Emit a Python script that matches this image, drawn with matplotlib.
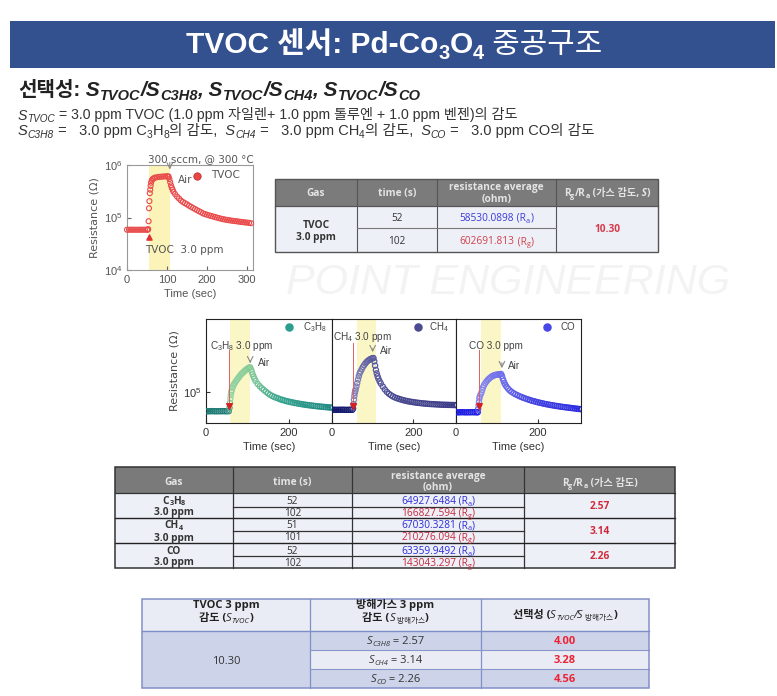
import numpy as np
import matplotlib
matplotlib.use('Agg')
import matplotlib.pyplot as plt
from matplotlib.patches import Rectangle
from matplotlib.lines import Line2D
from matplotlib.colors import LinearSegmentedColormap

# ---------------- data ----------------
tvoc_t = [0, 5, 10, 15, 20, 25, 30, 35, 40, 45, 50, 52, 53, 54, 55, 56, 57, 58, 59, 60,
          62, 64, 67, 70, 75, 80, 85, 90, 95, 100, 103, 104, 106, 108, 110, 112, 114, 116,
          120, 125, 130, 135, 140, 145, 150, 155, 160, 165, 170, 175, 180, 185, 190, 195,
          200, 205, 210, 215, 220, 225, 230, 235, 240, 245, 250, 255, 260, 265, 270, 275,
          280, 285, 290, 295, 300, 305, 310]
tvoc_r = [58500, 58400, 58600, 58500, 58500, 58400, 58500, 58600, 58500, 58500, 58500,
          58600, 60000, 85000, 150000, 205000, 290000, 340000, 400000, 460000,
          510000, 540000, 560000, 575000, 585000, 593000, 598000, 603000, 607000, 610000,
          605000, 600000, 540000, 470000, 410000, 370000, 340000, 310000,
          280000, 250000, 230000, 210000, 197000, 187000, 178000, 168000, 160000, 152000,
          145000, 138000, 132000, 126000, 120000, 116000, 113000, 110000, 107000, 104500,
          102000, 99500, 97000, 95000, 93000, 91500, 90000, 88700, 87500, 86500, 85500,
          84500, 83500, 82500, 81500, 80700, 80000, 79000, 78000]

c3h8_t = [0, 5, 10, 15, 20, 25, 30, 35, 40, 45, 50, 55, 57, 58, 59, 60, 61, 62, 64, 66,
          68, 70, 73, 76, 79, 82, 85, 88, 91, 94, 97, 100, 103, 105, 107, 109, 111, 113,
          115, 117, 120, 125, 130, 135, 140, 145, 150, 155, 160, 165, 170, 175, 180, 185,
          190, 195, 200, 205, 210, 215, 220, 225, 230, 235, 240, 245, 250, 255, 260, 265,
          270, 275, 280, 285, 290, 295, 300, 305]
c3h8_r = [64900, 64800, 64900, 65000, 64900, 64800, 64900, 64900, 65000, 64900, 64900,
          64900, 70000, 78000, 86000, 93000, 99000, 103000, 109000, 114000,
          118000, 122000, 127000, 132000, 137000, 142000, 147000, 151000, 155000, 159000,
          163000, 166000, 169000, 170500, 171000, 163000, 155000, 147000,
          140000, 134000, 127000, 119000, 113000, 108000, 104000, 100000, 96500, 93500,
          91000, 89000, 87500, 86000, 84500, 83300, 82200, 81200, 80300, 79500, 78700,
          78000, 77300, 76700, 76100, 75500, 75000, 74500, 74000, 73600, 73200, 72800,
          72400, 72000, 71700, 71400, 71100, 70800, 70500, 70300]

ch4_t = [0, 5, 10, 15, 20, 25, 30, 35, 40, 45, 50, 52, 53, 54, 55, 56, 57, 58, 60, 62,
         64, 66, 68, 70, 73, 76, 79, 82, 85, 88, 91, 94, 97, 100, 102, 104, 106, 108, 110,
         112, 114, 117, 120, 125, 130, 135, 140, 145, 150, 155, 160, 165, 170, 175, 180,
         185, 190, 195, 200, 205, 210, 215, 220, 225, 230, 235, 240, 245, 250, 255, 260,
         265, 270, 275, 280, 285, 290, 295, 300, 305]
ch4_r = [67000, 67100, 66900, 67000, 67000, 67100, 67000, 66900, 67000, 67000, 67000,
         69000, 76000, 84000, 91000, 97000, 101000, 105000, 112000, 121000,
         131000, 141000, 150000, 156000, 164000, 173000, 180000, 187000, 193000, 198000,
         202000, 205000, 208000, 210000, 210500, 196000, 178000, 162000, 150000,
         141000, 134000, 126000, 120000, 112000, 105000, 99500, 95500, 92500, 90000,
         88000, 86500, 85200, 84000, 83000, 82000, 81200, 80500, 79900, 79300, 78800,
         78300, 77900, 77500, 77100, 76800, 76500, 76200, 76000, 75800, 75600, 75400,
         75200, 75000, 74900, 74800, 74700, 74600, 74500, 74400, 74300]

co_t = [0, 5, 10, 15, 20, 25, 30, 35, 40, 45, 50, 53, 54, 55, 56, 57, 58, 60, 62, 64,
        66, 68, 71, 74, 77, 80, 83, 86, 89, 92, 95, 98, 101, 104, 107, 110, 112, 114, 116,
        118, 120, 123, 127, 131, 135, 140, 145, 150, 155, 160, 165, 170, 175, 180, 185,
        190, 195, 200, 205, 210, 215, 220, 225, 230, 235, 240, 245, 250, 255, 260, 265,
        270, 275, 280, 285, 290, 295, 300, 305]
co_r = [63400, 63300, 63400, 63500, 63400, 63300, 63400, 63400, 63500, 63400, 63400,
        63400, 68000, 74000, 80000, 86000, 90000, 94000, 98000, 104000,
        110000, 115000, 120000, 125000, 129000, 133000, 136000, 139000, 141500, 143000,
        144500, 145500, 146000, 146500, 147000, 148000, 142000, 134000, 127000,
        121000, 117000, 112000, 107000, 103000, 100000, 97000, 94500, 92500, 90500,
        88800, 87200, 85800, 84500, 83200, 82000, 81000, 80000, 79000, 78200, 77400,
        76600, 75900, 75200, 74600, 74000, 73400, 72900, 72400, 71900, 71400, 71000,
        70600, 70200, 69800, 69400, 69000, 68600, 68200, 67900]

gas_names = ['C3H8', 'CH4', 'CO']
t1_times = ['52', '102']
t1_res = ['58530.0898', '602691.813']
t1_ratio = '10.30'
t2_times = [['52', '102'], ['51', '101'], ['52', '102']]
t2_res = [['64927.6484', '166827.594'], ['67030.3281', '210276.094'],
          ['63359.9492', '143043.297']]
t2_ratio = ['2.57', '3.14', '2.26']
t3_tvoc = '10.30'
t3_s = ['2.57', '3.14', '2.26']
t3_sel = ['4.00', '3.28', '4.56']

# ---------------- setup ----------------
plt.rcParams['mathtext.fontset'] = 'custom'
plt.rcParams['mathtext.rm'] = 'Liberation Sans'
plt.rcParams['mathtext.it'] = 'Liberation Sans:italic'
plt.rcParams['mathtext.bf'] = 'Liberation Sans:bold'
plt.rcParams['font.family'] = ['Liberation Sans', 'Noto Sans CJK KR', 'DejaVu Sans']

W, H = 777, 696
fig = plt.figure(figsize=(W / 100, H / 100), dpi=100)
fig.patch.set_facecolor('white')
R = fig.canvas.get_renderer()

SANS = ['Liberation Sans', 'Noto Sans CJK KR', 'DejaVu Sans']
TAB = ['Open Sans', 'Noto Sans CJK KR', 'DejaVu Sans']


def P(x, y):
    return x / W, 1 - y / H


def rich(x, y, pieces, ha='left', base=None, zorder=5):
    base = base or {}
    arts, widths = [], []
    for s, kw in pieces:
        k = dict(base)
        k.update(kw)
        dy = k.pop('dy', 0)
        t = fig.text(0, 0, s, ha='left', va='baseline', zorder=zorder, **k)
        widths.append(t.get_window_extent(R).width)
        arts.append((t, dy))
    total = sum(widths)
    cx = x - (total / 2 if ha == 'center' else 0)
    for (t, dy), w in zip(arts, widths):
        t.set_position(P(cx, y + dy))
        cx += w


def box(x0, y0, x1, y1, fc, ec='none', lw=0, z=1):
    fig.add_artist(Rectangle(P(x0, y1), (x1 - x0) / W, (y1 - y0) / H, transform=fig.transFigure,
                             facecolor=fc, edgecolor=ec, linewidth=lw, zorder=z))


def hl(x0, x1, y, c, lw=0.9, z=3):
    fig.add_artist(Line2D([x0 / W, x1 / W], [1 - y / H, 1 - y / H], transform=fig.transFigure,
                          color=c, lw=lw, zorder=z))


def vl(x, y0, y1, c, lw=0.9, z=3):
    fig.add_artist(Line2D([x / W, x / W], [1 - y0 / H, 1 - y1 / H], transform=fig.transFigure,
                          color=c, lw=lw, zorder=z))


def chem(name, kw, subkw):
    out = []
    for ch in name:
        if ch.isdigit():
            out.append((ch, subkw))
        elif out and out[-1][1] is kw:
            out[-1] = (out[-1][0] + ch, kw)
        else:
            out.append((ch, kw))
    return out


# watermark
fig.text(*P(286, 294), 'POINT ENGINEERING', fontsize=31, style='italic', color='#f3f3f3',
         family='Liberation Sans', zorder=0)

# ---------------- banner ----------------
box(10, 21, 775, 68, '#33508f', z=1)
tb = dict(color='white', family=SANS, fontsize=21.5, fontweight='bold')
tsub = dict(tb, fontsize=14.5, dy=6)
rich(394, 53, [('TVOC 센서: Pd-Co', {}), ('3', tsub), ('O', {}), ('4', tsub),
               (' 중공구조', dict(fontweight='normal'))], ha='center', base=tb)

# ---------------- subtitle ----------------
sb = dict(color='#222222', family=SANS, fontsize=14.5, fontweight='bold')
si = dict(style='italic', fontsize=15)
ss = dict(style='italic', fontsize=10.5, dy=3.5)
rich(18, 96, [('선택성:', {}), (' S', si), ('TVOC', ss), ('/S', si), ('C3H8', ss),
              (', S', si), ('TVOC', ss), ('/S', si), ('CH4', ss), (', S', si), ('TVOC', ss),
              ('/S', si), ('CO', ss)], base=sb)

lb = dict(color='#333333', family=SANS, fontsize=10.2)
li = dict(style='italic')
ls = dict(style='italic', fontsize=7.2, dy=2.5)
lsn = dict(fontsize=7.2, dy=2.5)
rich(18, 119.5, [('S', li), ('TVOC', ls),
                 (' = 3.0 ppm TVOC (1.0 ppm 자일렌+ 1.0 ppm 톨루엔 + 1.0 ppm 벤젠)의 감도', {})],
     base=lb)
lb2 = dict(lb, fontsize=10.5)
ls2 = dict(ls, fontsize=7.4)
lsn2 = dict(lsn, fontsize=7.4)
rich(18, 135, [('S', li), ('C3H8', ls2), (' =   3.0 ppm C', {}), ('3', lsn2), ('H', {}), ('8', lsn2),
               ('의 감도,', {}), ('  S', li), ('CH4', ls2), (' =   3.0 ppm CH', {}), ('4', lsn2),
               ('의 감도,', {}), ('  S', li), ('CO', ls2), (' =   3.0 ppm CO의 감도', {})], base=lb2)


# ---------------- TVOC plot ----------------
def axes_px(l, t, r, b):
    return fig.add_axes([l / W, 1 - b / H, (r - l) / W, (b - t) / H])


ax = axes_px(127, 165, 253, 270)
ax.set_xlim(0, 315)
ax.set_yscale('log')
ax.set_ylim(1e4, 1e6)
ax.axvspan(54, 108, color='#fbf3b8', lw=0, zorder=0)
ax.scatter(tvoc_t, tvoc_r, s=13, facecolors='none', edgecolors='#ea4b4b', linewidths=0.8,
           zorder=3, clip_on=False)
ax.set_xticks([0, 100, 200, 300])
ax.set_yticks([1e4, 1e5, 1e6])
ax.minorticks_off()
ax.tick_params(direction='in', length=3, labelsize=8, colors='#666666', labelcolor='#555555')
for sp in ax.spines.values():
    sp.set_color('#999999')
    sp.set_linewidth(0.8)
ax.set_xlabel('Time (sec)', fontsize=8, color='#555555', labelpad=3)
ax.set_ylabel('Resistance (Ω)', fontsize=8, color='#555555', labelpad=3, family='DejaVu Sans')
tr = ax.get_xaxis_transform()
ax.text(0.59, 1.06, '300 sccm, @ 300 °C', transform=ax.transAxes, ha='center', va='center',
        fontsize=7.5, color='#555555', family='DejaVu Sans')
ax.annotate('', xy=(107, 0.93), xytext=(107, 1.05), xycoords=tr, textcoords=tr,
            arrowprops=dict(arrowstyle='->', color='#888888', lw=0.8), annotation_clip=False)
ax.text(127, 0.855, 'Air', transform=tr, fontsize=7.5, color='#555555', va='center',
        family='DejaVu Sans')
ax.scatter([175], [0.9], transform=tr, s=28, color='#e84545', edgecolors='#c03030',
           linewidths=0.6, zorder=4, clip_on=False)
ax.text(210, 0.9, 'TVOC', transform=tr, fontsize=7.5, color='#555555', va='center',
        family='DejaVu Sans')
ax.scatter([55], [4.2e4], marker='^', s=14, color='#e03030', zorder=4)
ax.text(45, 0.19, 'TVOC  3.0 ppm', transform=tr, fontsize=7.5, color='#555555', va='center',
        family='DejaVu Sans')

# ---------------- three panels ----------------
panels = [
    dict(l=206, r=332, t=c3h8_t, v=c3h8_r, name='C$_3$H$_8$',
         cols=[(0, '#1e7b74'), (0.178, '#1e7b74'), (0.19, '#93d2a4'), (0.35, '#88cc98'),
               (0.6, '#35a390'), (1, '#1e8a82')],
         lc='#2a9d8f', lx=202, tx=234, red=56, redtop=0.70, txt='C$_3$H$_8$ 3.0 ppm', txx=10,
         txy=0.743, ax_=107, at=0.625, ab=0.548, airx=127, airy=0.577, band=(59, 107)),
    dict(l=332, r=456, t=ch4_t, v=ch4_r, name='CH$_4$',
         cols=[(0, '#141a6e'), (0.165, '#141a6e'), (0.175, '#8484bb'), (0.33, '#5a5aa0'),
               (0.55, '#48488f'), (1, '#3b3b88')],
         lc='#4b4b92', lx=212, tx=239, red=52, redtop=0.77, txt='CH$_4$ 3.0 ppm', txx=2,
         txy=0.83, ax_=100, at=0.74, ab=0.654, airx=117, airy=0.69, band=(61, 107)),
    dict(l=456, r=581, t=co_t, v=co_r, name='CO',
         cols=[(0, '#1e1ee4'), (0.172, '#1e1ee4'), (0.18, '#8a8af0'), (0.36, '#7070ea'),
               (0.6, '#4646e3'), (1, '#2a2ae0')],
         lc='#4747e6', lx=222, tx=254, red=56, redtop=0.70, txt='CO 3.0 ppm', txx=32,
         txy=0.743, ax_=112, at=0.606, ab=0.50, airx=127, airy=0.548, band=(61, 111)),
]
for i, p in enumerate(panels):
    a = axes_px(p['l'], 319, p['r'], 423)
    a.set_xlim(0, 305)
    a.set_yscale('log')
    a.set_ylim(5e4, 5e5)
    a.axvspan(*p['band'], color='#fbf6c6', lw=0, zorder=0)
    cmap = LinearSegmentedColormap.from_list('c%d' % i, p['cols'])
    cc = cmap(np.asarray(p['t'], float) / 305)
    a.scatter(p['t'], p['v'], s=14, facecolors='none', edgecolors=cc, linewidths=0.9, zorder=3)
    a.set_xticks([0, 200])
    a.minorticks_off()
    a.tick_params(direction='in', length=3, labelsize=8, colors='#333333')
    if i == 0:
        a.set_yticks([1e5])
        a.set_ylabel('Resistance (Ω)', fontsize=8, color='#444444', labelpad=2,
                     family='DejaVu Sans')
    else:
        a.set_yticks([])
    a.set_xlabel('Time (sec)', fontsize=8, color='#333333', labelpad=3)
    for sp in a.spines.values():
        sp.set_color('#222222')
        sp.set_linewidth(0.8)
    trp = a.get_xaxis_transform()
    a.scatter([p['lx']], [0.926], transform=trp, s=26, color=p['lc'], edgecolors=p['lc'],
              zorder=4)
    a.text(p['tx'], 0.926, p['name'], transform=trp, fontsize=7, color='#444444', va='center')
    a.plot([p['red'], p['red']], [p['redtop'], 0.18], transform=trp, color='#e06060', lw=0.7,
           zorder=4)
    a.scatter([p['red']], [0.16], transform=trp, marker='v', s=16, color='#d42020', zorder=5)
    a.text(p['txx'], p['txy'], p['txt'], transform=trp, fontsize=7.2, color='#444444',
           va='center')
    a.annotate('', xy=(p['ax_'], p['ab']), xytext=(p['ax_'], p['at']), xycoords=trp,
               textcoords=trp, arrowprops=dict(arrowstyle='->', color='#888888', lw=0.8))
    a.text(p['airx'], p['airy'], 'Air', transform=trp, fontsize=7.2, color='#444444',
           va='center')

# ---------------- table 1 ----------------
hdr = dict(family=TAB, fontsize=7.3, fontweight='bold', color='#e4e4e4')
hsub = dict(hdr, fontsize=5.2, dy=2)
bod = dict(family=TAB, fontsize=7.3, color='#333333')
X = [275, 357, 437, 556, 658]
box(275, 179, 658, 206, '#7b7b7b')
box(275, 206, 658, 252, '#edf0f7')
for x in X[1:-1]:
    vl(x, 179, 252, '#555555', 0.8)
hl(275, 658, 206, '#555555', 0.9)
hl(357, 556, 228, '#777777', 0.8)
box(275, 179, 658, 252, 'none', '#555555', 1.0, z=4)
cx = [(X[j] + X[j + 1]) / 2 for j in range(4)]
rich(cx[0], 196, [('Gas', {})], 'center', hdr)
rich(cx[1], 196, [('time (s)', {})], 'center', hdr)
rich(cx[2], 190, [('resistance average', {})], 'center', hdr)
rich(cx[2], 202, [('(ohm)', {})], 'center', hdr)
rich(cx[3], 196, [('R', {}), ('g', hsub), ('/R', {}), ('a', hsub), (' (가스 감도,', {}),
                  (' S', dict(style='italic')), (')', {})], 'center', hdr)
bb = dict(bod, fontweight='bold')
rich(cx[0], 228, [('TVOC', {})], 'center', bb)
rich(cx[0], 240, [('3.0 ppm', {})], 'center', bb)
rcol = ['#3a3ad8', '#d0404c']
rsub = ['a', 'g']
for k in range(2):
    yb = [221, 244][k]
    rich(cx[1], yb, [(t1_times[k], {})], 'center', bod)
    rich(cx[2], yb, [(t1_res[k], {}), (' (R', {}), (rsub[k], dict(fontsize=5.2, dy=2)),
                     (')', {})], 'center', dict(bod, color=rcol[k]))
rich(cx[3], 232, [(t1_ratio, {})], 'center', dict(bb, color='#d83a4a'))

# ---------------- table 2 ----------------
X = [115, 233, 352, 524, 675]
box(115, 467, 675, 493, '#7a7a7a')
box(115, 493, 675, 568, '#eef0f8')
for x in X[1:-1]:
    vl(x, 467, 568, '#333333', 0.9)
hl(115, 675, 493, '#333333', 0.9)
for yy in (518, 543):
    hl(115, 675, yy, '#222222', 1.0)
for yy in (506.5, 531, 555.5):
    hl(233, 524, yy, '#333333', 0.9)
box(115, 467, 675, 568, 'none', '#333333', 1.1, z=4)
cx = [(X[j] + X[j + 1]) / 2 for j in range(4)]
rich(cx[0], 485, [('Gas', {})], 'center', hdr)
rich(cx[1], 485, [('time (s)', {})], 'center', hdr)
rich(cx[2], 478.5, [('resistance average', {})], 'center', hdr)
rich(cx[2], 490, [('(ohm)', {})], 'center', hdr)
rich(cx[3], 486, [('R', {}), ('g', hsub), ('/R', {}), ('a', hsub), (' (가스 감도)', {})],
     'center', hdr)
gsub = dict(fontsize=5.2, dy=1.5)
for g in range(3):
    y0 = 493 + g * 25
    rich(cx[0], y0 + 10.5, chem(gas_names[g], {}, gsub), 'center', bb)
    rich(cx[0], y0 + 22.5, [('3.0 ppm', {})], 'center', bb)
    for k in range(2):
        yb = y0 + [10.5, 22.5][k]
        rich(cx[1], yb, [(t2_times[g][k], {})], 'center', bod)
        rich(cx[2], yb, [(t2_res[g][k], {}), (' (R', {}), (rsub[k], dict(fontsize=5.2, dy=2)),
                         (')', {})], 'center', dict(bod, color=['#2a2ad8', '#c8283a'][k]))
    rich(cx[3], y0 + 16, [(t2_ratio[g], {})], 'center', dict(bb, color='#d02a3a'))

# ---------------- table 3 ----------------
X = [142, 310, 481, 649]
Y = [599, 631, 650, 669, 688]
box(142, 599, 649, 631, '#e9ecf4')
box(142, 631, 310, 688, '#cdd4e9')
rowc = ['#cdd4e9', '#e9ecf5', '#cdd4e9']
for k in range(3):
    box(310, Y[k + 1], 649, Y[k + 2], rowc[k])
for x in X[1:-1]:
    vl(x, 599, 688, '#8290c8', 0.9)
hl(142, 649, 631, '#7f8dc6', 1.0)
for yy in Y[2:4]:
    hl(310, 649, yy, '#8a97cc', 0.8)
box(142, 599, 649, 688, 'none', '#8290c8', 1.1, z=4)
h3 = dict(family=TAB, fontsize=8, fontweight='bold', color='#222222')
h3i = dict(style='italic', fontweight='normal', fontsize=8)
h3s = dict(style='italic', fontweight='normal', fontsize=5.5, dy=2)
cx = [(X[j] + X[j + 1]) / 2 for j in range(3)]
rich(cx[0], 608, [('TVOC 3 ppm', {})], 'center', h3)
rich(cx[0], 621, [('감도 (', {}), ('S', h3i), ('TVOC', h3s), (')', {})], 'center', h3)
rich(cx[1], 608, [('방해가스 3 ppm', {})], 'center', h3)
rich(cx[1], 621, [('감도 (', {}), ('S', h3i), (' 방해가스', h3s), (')', {})], 'center', h3)
rich(cx[2], 618, [('선택성 (', {}), ('S', h3i), ('TVOC', h3s), ('/S', h3i), (' 방해가스', h3s),
                  (')', {})], 'center', h3)
b3 = dict(family=TAB, fontsize=8, color='#333333')
rich(cx[0], 664, [(t3_tvoc, {})], 'center', b3)
for k in range(3):
    yb = (Y[k + 1] + Y[k + 2]) / 2 + 3.5
    rich(cx[1], yb, [('S', dict(style='italic')), (gas_names[k], dict(style='italic', fontsize=5.5, dy=2)),
                     (' = ' + t3_s[k], {})], 'center', b3)
    rich(cx[2], yb, [(t3_sel[k], {})], 'center', dict(b3, fontweight='bold', color='#ee2233'))

fig.savefig('out.png', dpi=100, facecolor='white')
